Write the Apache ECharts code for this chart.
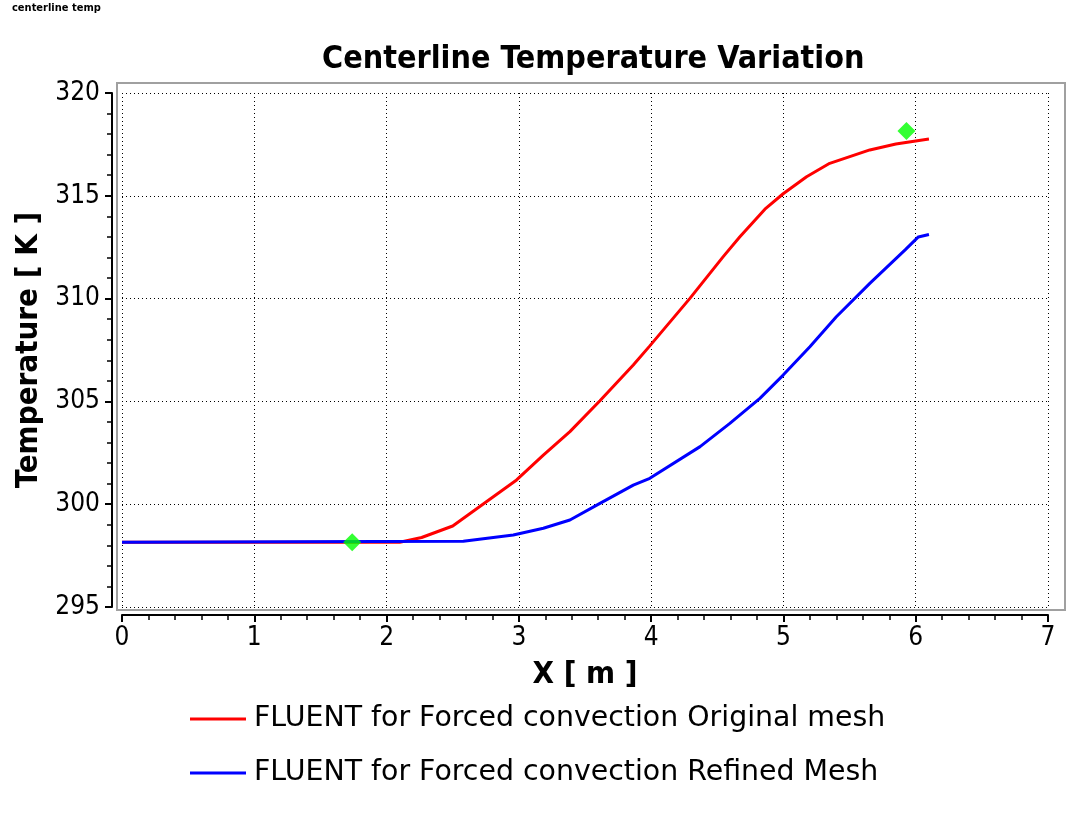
<!DOCTYPE html>
<html>
<head>
<meta charset="utf-8">
<script src="https://cdn.jsdelivr.net/npm/echarts@6/dist/echarts.min.js"></script>
<style>
html,body{margin:0;padding:0;background:#fff;}
#c{width:1068px;height:817px;}
</style>
</head>
<body>
<div id="c"></div>
<script>
const seriesNames = ['FLUENT for Forced convection Original mesh', 'FLUENT for Forced convection Refined Mesh'];
const originalMesh = [
  [0, 298.15], [2.1, 298.15], [2.265, 298.38], [2.5, 298.94], [2.744, 300.07],
  [2.983, 301.18], [3.185, 302.39], [3.386, 303.53], [3.613, 305.03], [3.865, 306.77],
  [3.99, 307.7], [4.293, 310.01], [4.545, 312.04], [4.671, 313.01], [4.86, 314.35],
  [4.998, 315.1], [5.175, 315.93], [5.35, 316.58], [5.653, 317.23], [5.85, 317.52],
  [6.0, 317.67], [6.1, 317.76]
];
const refinedMesh = [
  [0, 298.15], [2.58, 298.2], [2.958, 298.5], [3.185, 298.83], [3.386, 299.23],
  [3.613, 300.04], [3.865, 300.93], [3.99, 301.26], [4.37, 302.8], [4.595, 303.93],
  [4.822, 305.15], [4.998, 306.28], [5.2, 307.66], [5.4, 309.12], [5.653, 310.74],
  [5.92, 312.37], [6.02, 313.0], [6.1, 313.12]
];
const markerPoints = [[1.74, 298.15], [5.93, 318.15]];
const xTicks = [0, 7, 1];   // min, max, interval
const yTicks = [295, 320, 5];

const FONT = 'DejaVu Sans Condensed';
const chart = echarts.init(document.getElementById('c'), null, {renderer: 'canvas'});
chart.setOption({
  animation: false,
  backgroundColor: '#ffffff',
  title: [
    {text: 'centerline temp', left: 12, top: 3, padding: 0,
     textStyle: {fontFamily: FONT, fontSize: 11, fontWeight: 'bold', color: '#000'}},
    {text: 'Centerline Temperature Variation', left: 322, top: 44, padding: 0,
     textStyle: {fontFamily: FONT, fontSize: 32, fontWeight: 'bold', color: '#000'}}
  ],
  legend: {
    data: seriesNames,
    orient: 'vertical',
    left: 190, top: 704, padding: 0,
    itemWidth: 56, itemHeight: 3,
    itemGap: 24,
    icon: 'rect',
    textStyle: {fontFamily: 'DejaVu Sans', fontSize: 28.4, color: '#000', lineHeight: 30, padding: [0,0,0,3]}
  },
  grid: [
    {left: 117, top: 83, width: 948, height: 527, show: true, borderColor: '#a0a0a0', borderWidth: 2, backgroundColor: 'transparent'},
    {left: 122, top: 93, width: 926, height: 514}
  ],
  xAxis: [
    {gridIndex: 0, type: 'value', show: false, min: 0, max: 1},
    {gridIndex: 1, type: 'value', min: xTicks[0], max: xTicks[1], interval: xTicks[2], offset: 8,
     axisLine: {show: true, onZero: false, lineStyle: {color: '#000', width: 2}},
     axisTick: {show: true, length: 7, lineStyle: {color: '#000', width: 2}},
     minorTick: {show: true, splitNumber: 5, length: 5, lineStyle: {color: '#000', width: 1.5}},
     splitLine: {show: true, lineStyle: {color: '#000', type: [1, 3], width: 1}},
     axisLabel: {fontFamily: FONT, fontSize: 26, color: '#000', margin: 10},
     name: 'X [ m ]', nameLocation: 'middle', nameGap: 44,
     nameTextStyle: {fontFamily: FONT, fontSize: 31, fontWeight: 'bold', color: '#000'}}
  ],
  yAxis: [
    {gridIndex: 0, type: 'value', show: false, min: 0, max: 1},
    {gridIndex: 1, type: 'value', min: yTicks[0], max: yTicks[1], interval: yTicks[2], offset: 10,
     axisLine: {show: true, onZero: false, lineStyle: {color: '#000', width: 2}},
     axisTick: {show: true, length: 7, lineStyle: {color: '#000', width: 2}},
     minorTick: {show: true, splitNumber: 5, length: 5, lineStyle: {color: '#000', width: 1.5}},
     splitLine: {show: true, lineStyle: {color: '#000', type: [1, 3], width: 1}},
     axisLabel: {fontFamily: FONT, fontSize: 26, color: '#000', margin: 12},
     name: 'Temperature [ K ]', nameLocation: 'middle', nameGap: 63,
     nameTextStyle: {fontFamily: FONT, fontSize: 31, fontWeight: 'bold', color: '#000'}}
  ],
  series: [
    {name: seriesNames[0], type: 'line', xAxisIndex: 1, yAxisIndex: 1, data: originalMesh,
     symbol: 'none', lineStyle: {color: '#ff0000', width: 3}, itemStyle: {color: '#ff0000'}},
    {name: seriesNames[1], type: 'line', xAxisIndex: 1, yAxisIndex: 1, data: refinedMesh,
     symbol: 'none', lineStyle: {color: '#0000ff', width: 3}, itemStyle: {color: '#0000ff'}},
    {name: 'markers', type: 'scatter', xAxisIndex: 1, yAxisIndex: 1, data: markerPoints,
     symbol: 'diamond', symbolSize: 18, itemStyle: {color: '#00ff00'}, z: 5}
  ]
});
</script>
</body>
</html>
